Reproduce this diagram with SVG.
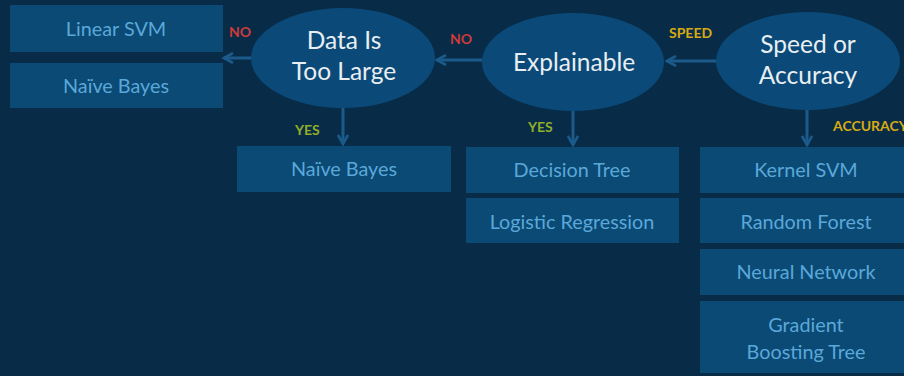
<svg xmlns="http://www.w3.org/2000/svg" width="904" height="376" viewBox="0 0 904 376">
<defs>
<marker id="arr" viewBox="0 0 12 12" refX="10" refY="6" markerWidth="12" markerHeight="12" markerUnits="userSpaceOnUse" orient="auto">
<path d="M1,1 L10,6 L1,11" fill="none" stroke="#1b5a8a" stroke-width="2.6"/>
</marker>
<style>
.box{fill:#0b4a74}
.ell{fill:#0b4a78}
.bt{font-family:Lato,"Open Sans",sans-serif;font-size:19.8px;fill:#5aa8da;text-anchor:middle}
.et{font-family:Lato,"Open Sans",sans-serif;font-size:24.5px;fill:#e9eef2;text-anchor:middle}
.lbl{font-family:Lato,"Open Sans",sans-serif;font-size:14px;font-weight:bold}
.no{fill:#cf3a3a}
.yes{fill:#8fae2a}
.sp{fill:#d6aa14}
.con{stroke:#1b5a8a;stroke-width:3;fill:none;marker-end:url(#arr)}
</style>
</defs>
<rect width="904" height="376" fill="#082c47"/>
<g id="connectors">
<line class="con" x1="716" y1="61" x2="667" y2="61"/>
<line class="con" x1="482" y1="60" x2="437" y2="60"/>
<line class="con" x1="252" y1="58" x2="224" y2="58"/>
<line class="con" x1="343" y1="107" x2="343" y2="144"/>
<line class="con" x1="573" y1="110" x2="573" y2="145"/>
<line class="con" x1="807" y1="109" x2="807" y2="145"/>
<text class="lbl sp" x="669" y="38">SPEED</text>
<text class="lbl no" x="450" y="44">NO</text>
<text class="lbl no" x="229" y="37">NO</text>
<text class="lbl yes" x="295" y="135">YES</text>
<text class="lbl yes" x="528" y="132">YES</text>
<text class="lbl sp" x="833" y="131">ACCURACY</text>
</g>
<g id="speed-or-accuracy"><ellipse class="ell" cx="808" cy="61" rx="92" ry="49"/><text class="et" x="808" y="53">Speed or</text><text class="et" x="808" y="84">Accuracy</text></g>
<g id="explainable"><ellipse class="ell" cx="573" cy="62" rx="91" ry="49"/><text class="et" x="574" y="71">Explainable</text></g>
<g id="data-too-large"><ellipse class="ell" cx="343" cy="58" rx="92" ry="50"/><text class="et" x="344" y="49">Data Is</text><text class="et" x="344" y="80">Too Large</text></g>
<g id="linear-svm"><rect class="box" x="10" y="5" width="213" height="47"/><text class="bt" x="116" y="36">Linear SVM</text></g>
<g id="naive-bayes-1"><rect class="box" x="10" y="63" width="213" height="45"/><text class="bt" x="116" y="93">Naïve Bayes</text></g>
<g id="naive-bayes-2"><rect class="box" x="237" y="146" width="214" height="46"/><text class="bt" x="344" y="176">Naïve Bayes</text></g>
<g id="decision-tree"><rect class="box" x="466" y="147" width="213" height="46"/><text class="bt" x="572" y="177">Decision Tree</text></g>
<g id="logistic-regression"><rect class="box" x="466" y="198" width="213" height="45"/><text class="bt" x="572" y="229">Logistic Regression</text></g>
<g id="kernel-svm"><rect class="box" x="700" y="147" width="204" height="46"/><text class="bt" x="806" y="177">Kernel SVM</text></g>
<g id="random-forest"><rect class="box" x="700" y="198" width="204" height="45"/><text class="bt" x="806" y="229">Random Forest</text></g>
<g id="neural-network"><rect class="box" x="700" y="249" width="204" height="46"/><text class="bt" x="806" y="279">Neural Network</text></g>
<g id="gradient-boosting-tree"><rect class="box" x="700" y="301" width="204" height="72"/><text class="bt" x="806" y="332">Gradient</text><text class="bt" x="806" y="359">Boosting Tree</text></g>
</svg>
